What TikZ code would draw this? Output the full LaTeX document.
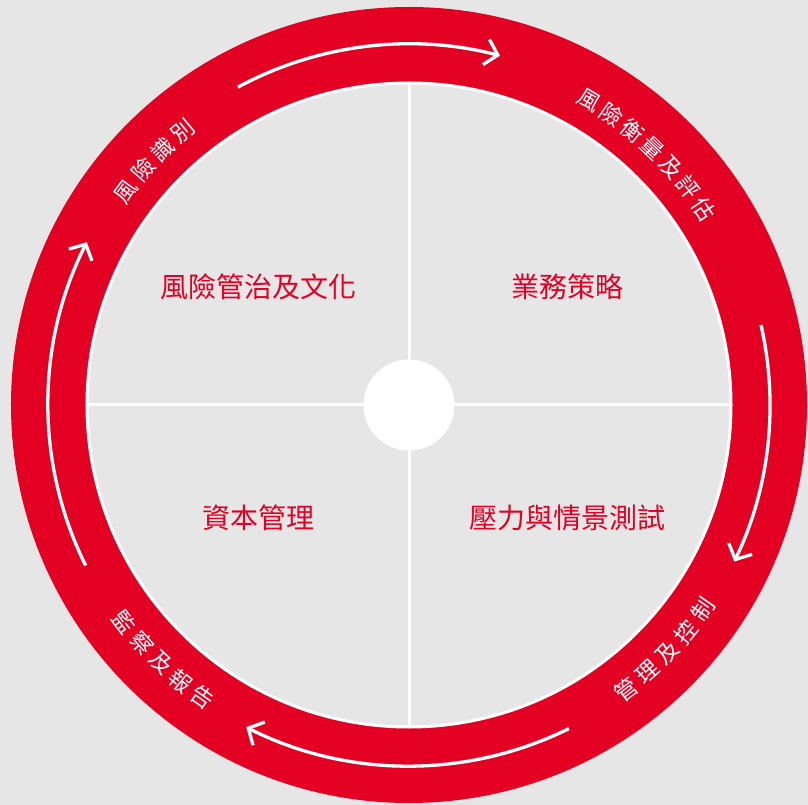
\documentclass[tikz,border=0pt]{standalone}
\usepackage{fontspec}
\newfontfamily\cjk{Noto Sans CJK TC}
\usetikzlibrary{arrows.meta}
\definecolor{bggray}{HTML}{E6E6E6}
\definecolor{ringred}{HTML}{E40022}
\tikzset{
  cyclearrow/.style={white, line width=3.3pt, -{Straight Barb[length=12pt,width=26pt,line width=3.3pt]}},
  quadtxt/.style={text=ringred, font=\cjk\fontsize{28}{30}\selectfont, inner sep=0pt},
  ringtxt/.style={text=white, font=\cjk\fontsize{22.5}{24}\selectfont, inner sep=0pt},
  divider/.style={white, line width=3pt}
}
\begin{document}
\begin{tikzpicture}[x=1pt,y=1pt]
\fill[bggray] (-409,-400) rectangle (399,405);
\useasboundingbox (-409,-400) rectangle (399,405);
\node[circle, fill=ringred, minimum size=796pt, inner sep=0pt, outer sep=0pt] (ring) at (0,0) {};
\node[circle, fill=bggray, draw=white, line width=3pt, minimum size=644pt, inner sep=0pt, outer sep=0pt] (inner) at (0,0) {};
\draw[divider] (inner.north) -- (inner.south);
\draw[divider] (inner.west) -- (inner.east);
\node[circle, fill=white, minimum size=91pt, inner sep=0pt] (hub) at (0,0) {};
% quadrant labels
\node[quadtxt] (q1) at (-150,118) {風險管治及文化};
\node[quadtxt] (q2) at (158,118) {業務策略};
\node[quadtxt] (q3) at (-150,-113) {資本管理};
\node[quadtxt] (q4) at (158,-113) {壓力與情景測試};
% cycle arrows
\draw[cyclearrow] (118.3:361) arc[start angle=118.3, end angle=75.4, radius=361pt];
\draw[cyclearrow] (12.8:361) arc[start angle=12.8, end angle=-25.7, radius=361pt];
\draw[cyclearrow] (-63.7:361) arc[start angle=-63.7, end angle=-116.8, radius=361pt];
\draw[cyclearrow] (206.4:361) arc[start angle=206.4, end angle=153.2, radius=361pt];
% ring labels
\foreach \ch [count=\i from 0] in {風,險,識,別}
  \node[ringtxt, rotate={143-4.5*\i-90}] (ra\i) at ({143-4.5*\i}:355) {\ch};
\foreach \ch [count=\i from 0] in {風,險,衡,量,及,評,估}
  \node[ringtxt, rotate={59.4-4.3*\i-90}] (rb\i) at ({59.4-4.3*\i}:354) {\ch};
\foreach \ch [count=\i from 0] in {管,理,及,控,制}
  \node[ringtxt, rotate={-52.7+4.45*\i+90}] (rc\i) at ({-52.7+4.45*\i}:358) {\ch};
\foreach \ch [count=\i from 0] in {監,察,及,報,告}
  \node[ringtxt, rotate={-142.6+4.35*\i+90}] (rd\i) at ({-142.6+4.35*\i}:358) {\ch};
\end{tikzpicture}
\end{document}
